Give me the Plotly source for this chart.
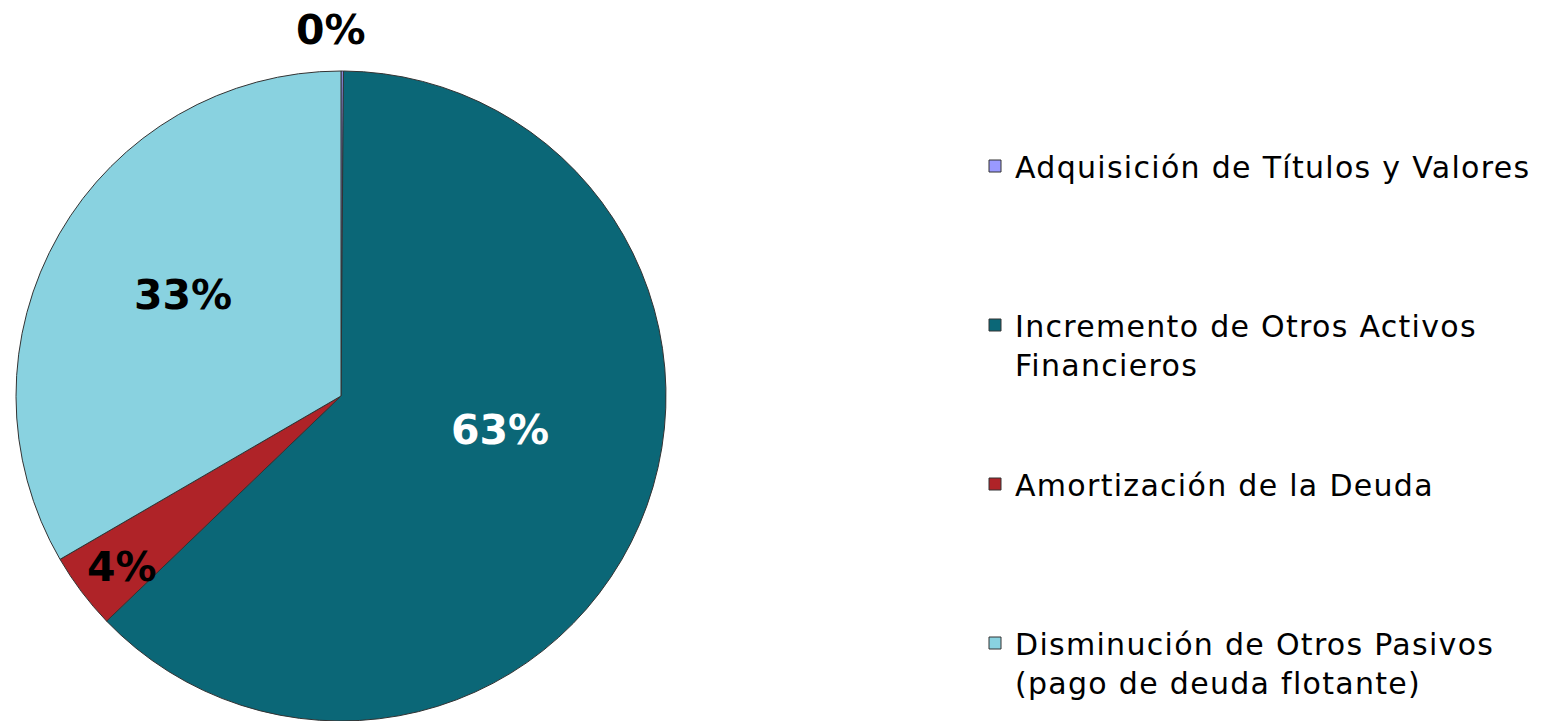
import plotly.graph_objects as go

labels = ["Adquisición de Títulos y Valores",
          "Incremento de Otros Activos<br>Financieros",
          "Amortización de la Deuda",
          "Disminución de Otros Pasivos<br>(pago de deuda flotante)"]
values = [0.12, 62.7, 3.8, 33.38]
colors = ["#9999FF", "#0B6777", "#AF2328", "#89D2E0"]
label_colors = ["#000000", "#FFFFFF", "#000000", "#000000"]
# label anchor positions in paper coordinates (text placement only)
label_pos = [(0.2148, 0.958), (0.3245, 0.404), (0.0792, 0.214), (0.1188, 0.591)]

FONT = "DejaVu Sans"

def pad(lbl, last):
    n = lbl.count("<br>") + 1
    lines = lbl.split("<br>")
    txt = "<br>".join(f'<span style="letter-spacing:1.3px">{t}</span>' for t in lines)
    if last:
        return txt
    return txt + "<br> " * (4 - n)

legend_labels = [pad(l, i == len(labels) - 1) for i, l in enumerate(labels)]

fig = go.Figure(go.Pie(
    labels=legend_labels,
    values=values,
    marker=dict(colors=colors, line=dict(color="#333333", width=1)),
    sort=False,
    direction="clockwise",
    rotation=0,
    textinfo="none",
    domain=dict(x=[16/1541, 666/1541], y=[0, 650/721]),
    hoverinfo="percent",
))

total = sum(values)
for v, c, (px, py) in zip(values, label_colors, label_pos):
    fig.add_annotation(
        x=px, y=py, xref="paper", yref="paper",
        text=f"<b>{round(100*v/total):.0f}%</b>",
        showarrow=False,
        font=dict(family=FONT, size=41, color=c),
        xanchor="center", yanchor="middle",
    )

fig.update_layout(
    width=1541, height=721,
    margin=dict(l=0, r=0, t=0, b=0),
    paper_bgcolor="white", plot_bgcolor="white",
    showlegend=True,
    legend=dict(
        x=975/1541, y=1 - 140/721, xanchor="left", yanchor="top",
        font=dict(family=FONT, size=30, color="#000000"),
        valign="top",
        bgcolor="rgba(0,0,0,0)",
    ),
)

fig.write_html("out.html", config={"displayModeBar": False},
               post_script="document.body.style.margin='0px';")
